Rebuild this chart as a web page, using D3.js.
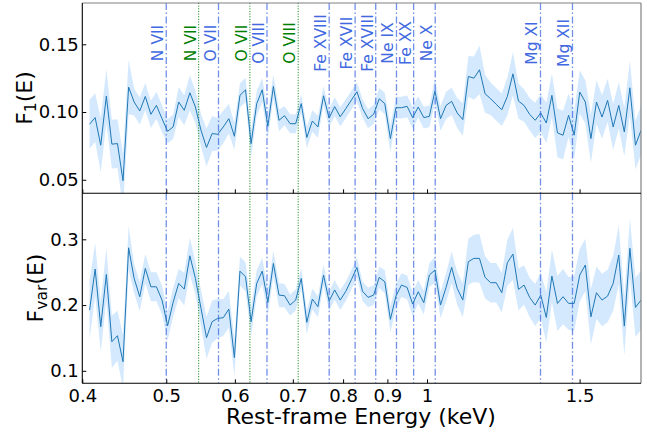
<!DOCTYPE html>
<html>
<head>
  <title>F1 and Fvar spectra</title>
  <script src="https://d3js.org/d3.v7.min.js"></script>
  <style>
    body { margin: 0; background: white; }
    svg { display: block; font-family: "DejaVu Sans", sans-serif; }
  </style>
</head>
<body>
<script>
// rest-frame energy grid (keV)
var energy = [0.4078,0.4139,0.4201,0.4264,0.4327,0.4392,0.4457,0.4524,0.4591,0.4660,
  0.4729,0.4800,0.4871,0.4944,0.5018,0.5092,0.5168,0.5245,0.5324,0.5403,
  0.5484,0.5565,0.5648,0.5733,0.5818,0.5905,0.5993,0.6082,0.6173,0.6265,
  0.6359,0.6453,0.6550,0.6647,0.6747,0.6847,0.6949,0.7053,0.7158,0.7265,
  0.7373,0.7483,0.7595,0.7708,0.7823,0.7940,0.8058,0.8178,0.8300,0.8424,
  0.8550,0.8677,0.8807,0.8938,0.9072,0.9207,0.9344,0.9484,0.9625,0.9769,
  0.9914,1.0062,1.0212,1.0365,1.0519,1.0676,1.0835,1.0997,1.1161,1.1327,
  1.1496,1.1668,1.1842,1.2018,1.2198,1.2380,1.2564,1.2752,1.2942,1.3135,
  1.3331,1.3530,1.3731,1.3936,1.4144,1.4355,1.4569,1.4787,1.5007,1.5231,
  1.5458,1.5689,1.5923,1.6160,1.6401,1.6646,1.6894,1.7146,1.7402,1.7661];

var f1 = [0.0910,0.0959,0.0755,0.1118,0.0763,0.0767,0.0493,0.1184,0.1074,0.1008,
  0.1115,0.0983,0.1049,0.0951,0.0858,0.0890,0.1074,0.1013,0.1142,0.1037,
  0.0865,0.0738,0.0841,0.0836,0.0890,0.0951,0.0821,0.1123,0.1164,0.0767,
  0.1062,0.1164,0.0895,0.1189,0.0939,0.0973,0.0914,0.0914,0.1062,0.0812,
  0.0934,0.0890,0.1120,0.0955,0.1040,0.0965,0.1025,0.1088,0.1150,0.1027,
  0.0951,0.0983,0.1098,0.1062,0.0804,0.1032,0.1032,0.1042,0.0959,0.1037,
  0.0959,0.0968,0.1155,0.0951,0.1049,0.1079,0.0993,0.0944,0.1263,0.1250,
  0.1312,0.1135,0.1098,0.1057,0.1017,0.1115,0.1282,0.1081,0.1049,0.0983,
  0.0939,0.0993,0.0919,0.1123,0.0846,0.0829,0.0976,0.0829,0.1147,0.1074,
  0.0804,0.1074,0.0963,0.1086,0.0890,0.1049,0.0853,0.1179,0.0755,0.0865];

var f1Err = [0.018,0.018,0.020,0.020,0.018,0.018,0.020,0.020,0.010,0.010,
  0.010,0.010,0.010,0.010,0.009,0.009,0.011,0.011,0.013,0.012,
  0.012,0.014,0.013,0.012,0.012,0.011,0.010,0.009,0.009,0.010,
  0.009,0.009,0.009,0.009,0.008,0.007,0.007,0.007,0.007,0.008,
  0.008,0.008,0.007,0.007,0.007,0.007,0.007,0.007,0.007,0.007,
  0.007,0.007,0.008,0.008,0.010,0.008,0.008,0.008,0.008,0.008,
  0.008,0.008,0.009,0.009,0.010,0.010,0.011,0.012,0.015,0.016,
  0.018,0.014,0.012,0.012,0.012,0.014,0.016,0.013,0.012,0.012,
  0.013,0.014,0.015,0.016,0.018,0.018,0.016,0.018,0.016,0.016,
  0.018,0.016,0.016,0.016,0.017,0.017,0.018,0.020,0.018,0.018];

var fvar = [0.1924,0.2547,0.1671,0.2466,0.1443,0.1534,0.1139,0.2871,0.2405,0.2127,
  0.2557,0.2278,0.2278,0.2076,0.1686,0.2041,0.2329,0.2243,0.2749,0.2405,
  0.1949,0.1504,0.1747,0.1797,0.1808,0.1939,0.1200,0.2516,0.2430,0.1747,
  0.2329,0.2516,0.2041,0.2633,0.2152,0.2142,0.2000,0.2076,0.2405,0.1737,
  0.2091,0.1975,0.2456,0.2060,0.2230,0.2076,0.2210,0.2385,0.2572,0.2210,
  0.2117,0.2152,0.2421,0.2355,0.1782,0.2137,0.2304,0.2269,0.2015,0.2203,
  0.2036,0.2457,0.2533,0.2000,0.2269,0.2573,0.2254,0.2076,0.2660,0.2710,
  0.2710,0.2421,0.2340,0.2340,0.2188,0.2644,0.2776,0.2238,0.2304,0.2117,
  0.2000,0.2152,0.1812,0.2441,0.2025,0.2127,0.2025,0.2025,0.2457,0.2609,
  0.1822,0.2188,0.2076,0.2137,0.2330,0.2761,0.1680,0.2863,0.1964,0.2076];

var fvarErr = [0.045,0.040,0.038,0.040,0.040,0.038,0.040,0.033,0.022,0.022,
  0.022,0.022,0.022,0.022,0.022,0.022,0.022,0.025,0.028,0.025,
  0.028,0.032,0.032,0.030,0.028,0.028,0.028,0.022,0.022,0.022,
  0.020,0.020,0.020,0.020,0.018,0.018,0.016,0.016,0.016,0.018,
  0.016,0.016,0.016,0.015,0.015,0.015,0.015,0.015,0.015,0.015,
  0.015,0.015,0.016,0.018,0.020,0.018,0.018,0.018,0.018,0.018,
  0.018,0.018,0.020,0.020,0.022,0.024,0.025,0.026,0.035,0.036,
  0.037,0.032,0.030,0.030,0.030,0.035,0.040,0.032,0.030,0.030,
  0.032,0.035,0.038,0.040,0.042,0.042,0.040,0.042,0.040,0.040,
  0.042,0.040,0.040,0.040,0.042,0.045,0.045,0.045,0.045,0.045];

// line identifications
var restLines = [0.500,0.5745,0.6535,0.771,0.826,0.8725,0.922,0.965,1.022,1.352,1.472];
var restNames = ["N VII","O VII","O VIII","Fe XVIII","Fe XVII","Fe XVIII","Ne IX","Fe XX","Ne X","Mg XI","Mg XII"];
var shiftLines = [0.545,0.6245,0.710];
var shiftNames = ["N VII","O VII","O VIII"];

var xTicks = [0.4,0.5,0.6,0.7,0.8,0.9,1,1.5];
var f1Ticks = [0.05,0.10,0.15];
var fvarTicks = [0.1,0.2,0.3];

var width = 647, height = 432;
var left = 82.3, right = 641, top1 = 3, mid = 193.3, bottom = 383.3;

var svg = d3.select("body").append("svg")
  .attr("width", width).attr("height", height);

var x = d3.scaleLog().domain([0.4, 1.766]).range([left, right]);
var yTop = d3.scaleLinear().domain([0.040, 0.1805]).range([mid, top1]);
var yBot = d3.scaleLinear().domain([0.081, 0.370]).range([bottom, mid]);

var blue = "#4169e1", green = "#008000";

function panel(name, y, vals, errs, y0, y1, ticks, fmt) {
  var g = svg.append("g");
  g.append("clipPath").attr("id", "clip-" + name)
    .append("rect").attr("x", left).attr("y", y1)
    .attr("width", right - left).attr("height", y0 - y1);

  var body = g.append("g").attr("clip-path", "url(#clip-" + name + ")");
  var rows = energy.map(function(e, i) { return {e: e, v: vals[i], err: errs[i]}; });

  body.append("path").datum(rows)
    .attr("fill", "#d4e9fd")
    .attr("d", d3.area()
      .x(function(d) { return x(d.e); })
      .y0(function(d) { return y(d.v - d.err); })
      .y1(function(d) { return y(d.v + d.err); }));

  body.selectAll(".rest").data(restLines).enter().append("line")
    .attr("x1", function(d) { return x(d); }).attr("x2", function(d) { return x(d); })
    .attr("y1", y1).attr("y2", y0)
    .attr("stroke", blue).attr("stroke-opacity", 0.75).attr("stroke-width", 1.3)
    .attr("stroke-dasharray", "7,2.5,1.5,2.5");

  body.selectAll(".shift").data(shiftLines).enter().append("line")
    .attr("x1", function(d) { return x(d); }).attr("x2", function(d) { return x(d); })
    .attr("y1", y1).attr("y2", y0)
    .attr("stroke", green).attr("stroke-width", 1)
    .attr("stroke-dasharray", "1,1.65");

  body.append("path").datum(rows)
    .attr("fill", "none").attr("stroke", "#1f77b4").attr("stroke-width", 1)
    .attr("d", d3.line()
      .x(function(d) { return x(d.e); })
      .y(function(d) { return y(d.v); }));

  var ya = g.append("g").attr("transform", "translate(" + left + ",0)")
    .call(d3.axisLeft(y).tickValues(ticks).tickFormat(d3.format(fmt))
      .tickSizeInner(-4).tickSizeOuter(0).tickPadding(3.5));
  ya.select(".domain").remove();
  ya.selectAll("text").attr("font-size", 18).attr("font-family", "DejaVu Sans").attr("fill", "black");

  var xa = g.append("g").attr("transform", "translate(0," + y0 + ")")
    .call(d3.axisBottom(x).tickValues(xTicks).tickFormat(function(d) { return String(d); })
      .tickSizeInner(-4).tickSizeOuter(0).tickPadding(6));
  xa.select(".domain").remove();
  xa.selectAll("text").attr("font-size", 18).attr("font-family", "DejaVu Sans").attr("fill", "black");
  return xa;
}

var xaTop = panel("top", yTop, f1, f1Err, mid, top1, f1Ticks, ".2f");
xaTop.selectAll("text").remove();
panel("bot", yBot, fvar, fvarErr, bottom, mid, fvarTicks, ".1f");

// spines
svg.append("line").attr("x1", left).attr("x2", right).attr("y1", top1).attr("y2", top1)
  .attr("stroke", "#808080").attr("stroke-width", 1.2);
svg.append("line").attr("x1", right).attr("x2", right).attr("y1", top1).attr("y2", bottom)
  .attr("stroke", "#808080").attr("stroke-width", 1.2);
svg.append("line").attr("x1", left).attr("x2", left).attr("y1", top1).attr("y2", bottom)
  .attr("stroke", "black").attr("stroke-width", 1.1);
[mid, bottom].forEach(function(yy) {
  svg.append("line").attr("x1", left).attr("x2", right).attr("y1", yy).attr("y2", yy)
    .attr("stroke", "black").attr("stroke-width", 1.1);
});

// line labels
function labels(vals, names, color) {
  svg.selectAll(null).data(vals).enter().append("text")
    .attr("transform", function(d) { return "translate(" + (x(d) - 3) + ",43) rotate(-90)"; })
    .attr("text-anchor", "middle")
    .attr("font-size", 15.5)
    .attr("fill", color)
    .text(function(d, i) { return names[i]; });
}
labels(restLines, restNames, blue);
labels(shiftLines, shiftNames, green);

// axis titles
svg.append("text").attr("x", 361).attr("y", 424).attr("text-anchor", "middle")
  .attr("font-size", 22).text("Rest-frame Energy (keV)");

var t1 = svg.append("text").attr("transform", "translate(32,98) rotate(-90)")
  .attr("text-anchor", "middle").attr("font-size", 22);
t1.append("tspan").text("F");
t1.append("tspan").attr("font-size", 15.5).attr("dy", 4).text("1");
t1.append("tspan").attr("dy", -4).text("(E)");

var t2 = svg.append("text").attr("transform", "translate(43,288) rotate(-90)")
  .attr("text-anchor", "middle").attr("font-size", 22);
t2.append("tspan").text("F");
t2.append("tspan").attr("font-size", 15.5).attr("dy", 4).text("var");
t2.append("tspan").attr("dy", -4).text("(E)");
</script>
</body>
</html>
